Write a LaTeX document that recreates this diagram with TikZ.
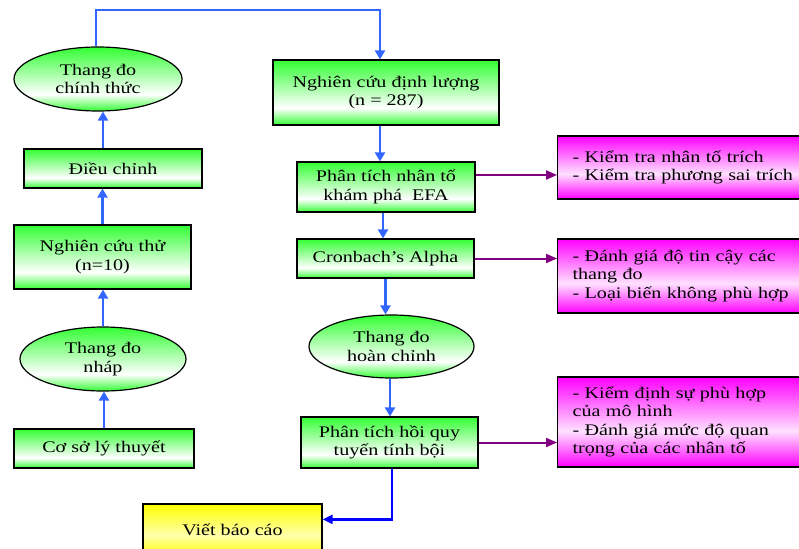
\documentclass[tikz,border=0pt]{standalone}
\usepackage{fontspec}
\setmainfont{Liberation Serif}[FakeStretch=1.24]
\usetikzlibrary{shapes.geometric,arrows.meta,calc}
\definecolor{gg}{RGB}{51,255,51}
\definecolor{mg}{RGB}{255,0,255}
\definecolor{pk}{RGB}{255,225,255}
\definecolor{yy}{RGB}{255,255,0}
\definecolor{ly}{RGB}{255,255,170}
\definecolor{bl}{RGB}{51,102,255}
\definecolor{db}{RGB}{0,0,255}
\definecolor{pu}{RGB}{128,0,128}
\pgfdeclareverticalshading{gsh}{100bp}{color(0bp)=(gg); color(25bp)=(gg); color(38bp)=(white); color(75bp)=(gg); color(100bp)=(gg)}
\pgfdeclareverticalshading{msh}{100bp}{color(0bp)=(mg); color(25bp)=(mg); color(45bp)=(pk); color(75bp)=(mg); color(100bp)=(mg)}
\pgfdeclareverticalshading{ysh}{100bp}{color(0bp)=(yy); color(25bp)=(yy); color(45bp)=(ly); color(75bp)=(yy); color(100bp)=(yy)}
\begin{document}
\begin{tikzpicture}[x=1pt,y=-1pt,
  txt/.style={font=\fontsize{16.2}{18.5}\selectfont},
  gbox/.style={txt,draw=black,line width=1.2pt,shading=gsh,inner sep=0pt,align=center},
  gell/.style={gbox,ellipse},
  mbox/.style={txt,draw=black,line width=1.2pt,shading=msh,inner xsep=15pt,inner ysep=0pt,align=left,text width=240pt,anchor=west},
  ybox/.style={gbox,shading=ysh},
  barr/.style={draw=bl,line width=2.8pt,-{Triangle[length=9pt,width=10pt]}},
  darr/.style={draw=db,line width=2.5pt,-{Triangle[length=10pt,width=9pt]}},
  parr/.style={draw=pu,line width=2pt,-{Triangle[length=11pt,width=9pt]}}
]
\useasboundingbox (0,0) rectangle (799,548);
\clip (0,0) rectangle (799,548);

% left column
\node[gell,minimum width=168pt,minimum height=64pt] (e1) at (98,79) {Thang đo\\chính thức};
\node[gbox,minimum width=178pt,minimum height=39pt] (dc) at (113,168.5) {Điều chỉnh};
\node[gbox,minimum width=177pt,minimum height=64pt] (nct) at (102.5,257) {Nghiên cứu thử\\(n=10)};
\node[gell,minimum width=166pt,minimum height=64pt] (e2) at (103,359) {Thang đo\\nháp};
\node[gbox,minimum width=180pt,minimum height=39pt] (cs) at (104,448.5) {Cơ sở lý thuyết};

% right column
\node[gbox,minimum width=226pt,minimum height=65pt] (ndl) at (386,92.5) {Nghiên cứu định lượng\\(n = 287)};
\node[gbox,minimum width=178pt,minimum height=50pt] (efa) at (386,187) {Phân tích nhân tố\\khám phá~~EFA};
\node[gbox,minimum width=177pt,minimum height=39pt] (cr) at (385.5,258.5) {Cronbach’s Alpha};
\node[gell,minimum width=165pt,minimum height=63pt] (e3) at (391.5,346.5) {Thang đo\\hoàn chỉnh};
\node[gbox,minimum width=177pt,minimum height=51pt] (hq) at (389.5,442.5) {Phân tích hồi quy\\tuyến tính bội};
\node[ybox,minimum width=179pt,minimum height=52pt] (vb) at (232.5,530) {Viết báo cáo};

% magenta boxes
\node[mbox,minimum height=63pt] (p1) at (557,167.5) {\raisebox{2pt}{\parbox{240pt}{- Kiểm tra nhân tố trích\\- Kiểm tra phương sai trích}}};
\node[mbox,minimum height=74pt] (p2) at (557,276) {- Đánh giá độ tin cậy các\\thang đo\\- Loại biến không phù hợp};
\node[mbox,minimum height=90pt] (p3) at (557,422) {- Kiểm định sự phù hợp\\của mô hình\\- Đánh giá mức độ quan\\trọng của các nhân tố};

\coordinate (tp) at (240,10);

% left arrows
\draw[barr] (cs.north) -- (cs.north |- e2.south);
\draw[barr] (e2.north) -- (e2.north |- nct.south);
\draw[barr] (nct.north) -- (nct.north |- dc.south);
\draw[barr] ([xshift=5pt]e1.south |- dc.north) -- ([xshift=5pt]e1.south);
\draw[barr] ([xshift=-2pt]e1.north) |- (tp) -| ([xshift=-6pt]ndl.north);

% right arrows
\draw[barr] ([xshift=-6pt]ndl.south) -- ([xshift=-6pt]efa.north);
\draw[barr] ([xshift=-3pt]efa.south) -- ([xshift=-3pt]efa.south |- cr.north);
\draw[barr] (cr.south) -- (cr.south |- e3.north);
\draw[barr] ([xshift=-1.5pt]e3.south) -- ([xshift=-1.5pt]e3.south |- hq.north);
\draw[darr] ([xshift=2.5pt]hq.south) |- ($(vb.north east)!0.3!(vb.south east)$);

% magenta arrows
\draw[parr] ([yshift=12pt]efa.east) -- ([yshift=12pt]efa.east -| p1.west);
\draw[parr] (cr.east) -- (cr.east -| p2.west);
\draw[parr] (hq.east) -- (hq.east -| p3.west);
\end{tikzpicture}
\end{document}
